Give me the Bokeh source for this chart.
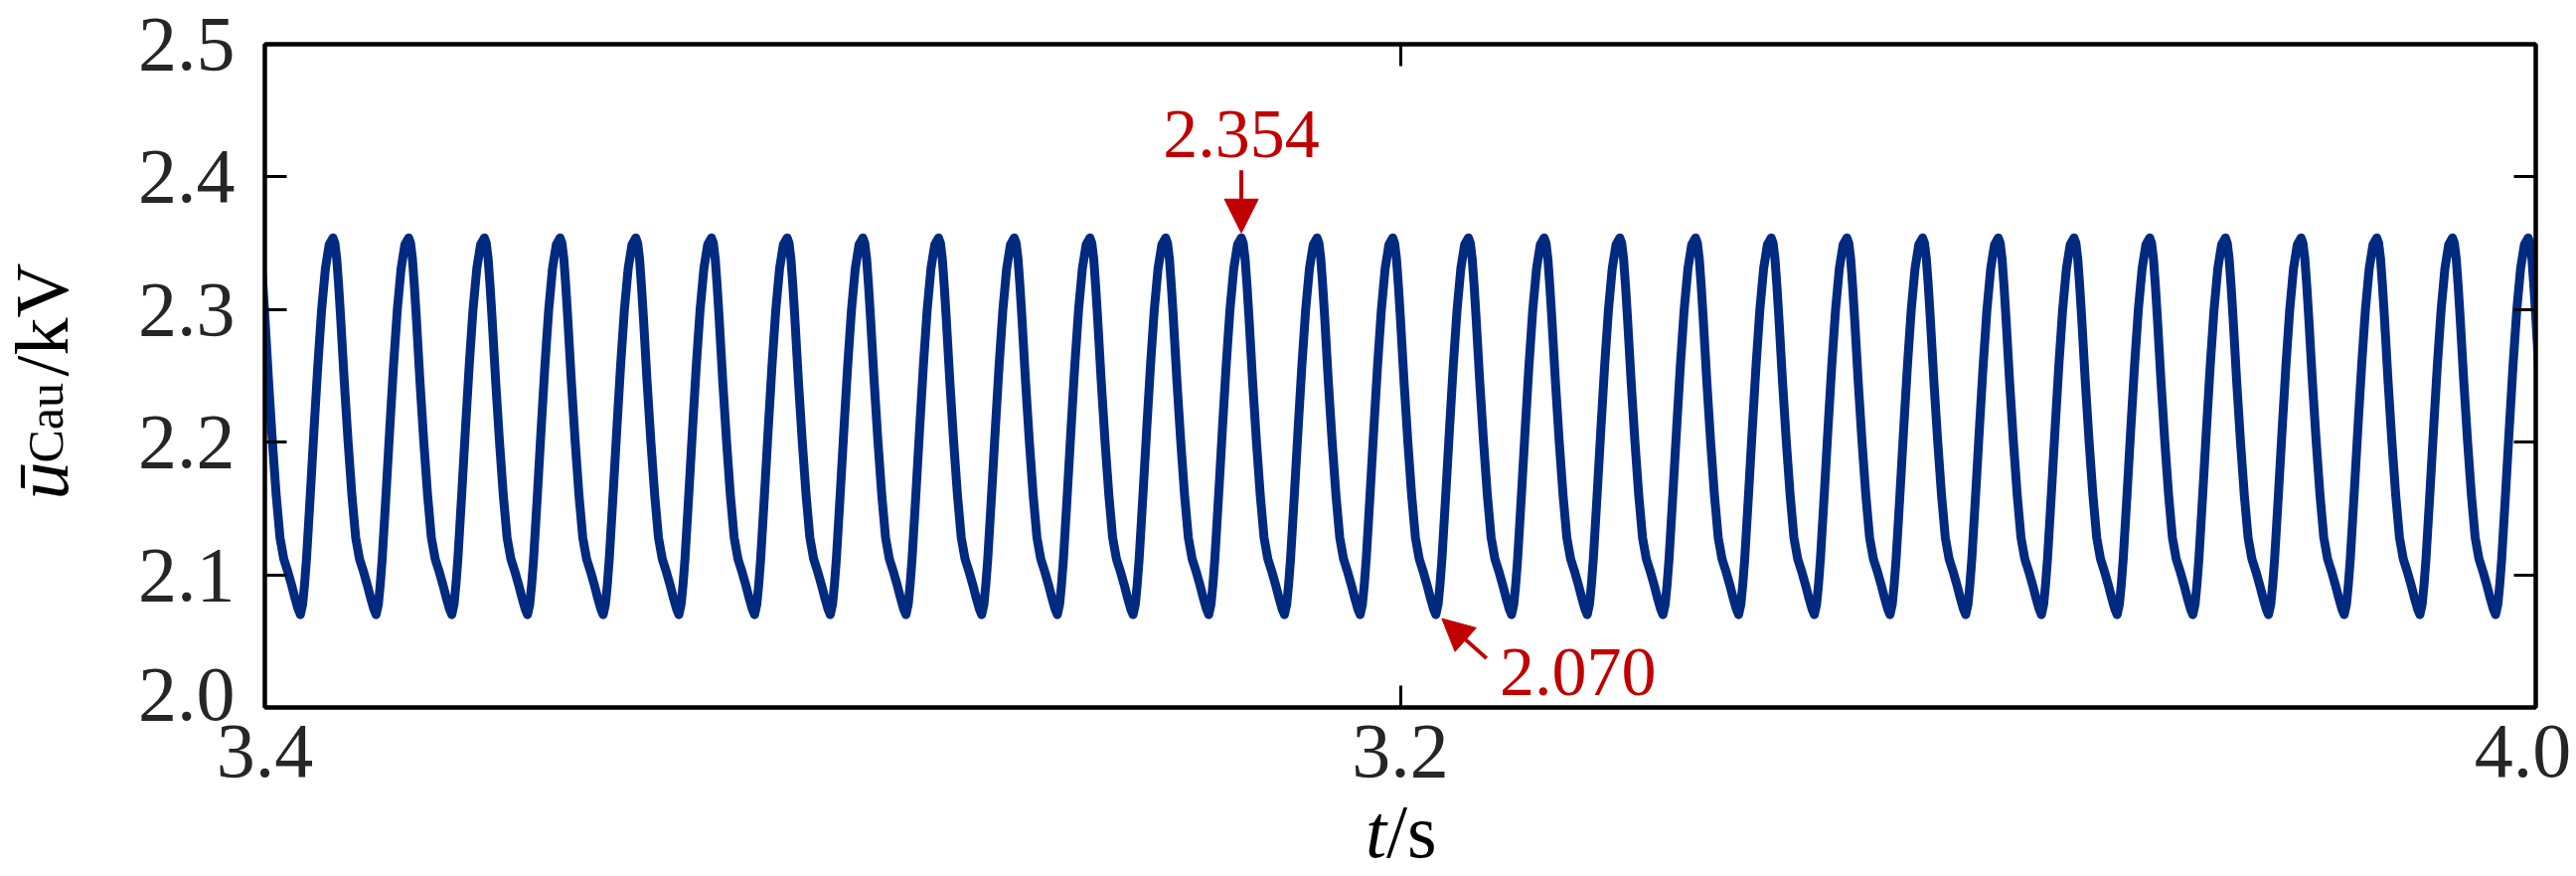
import math
from bokeh.plotting import figure
from bokeh.layouts import row, column
from bokeh.models import LinearAxis, FixedTicker, Label, Arrow, NormalHead
from bokeh.embed import file_html
from bokeh.resources import INLINE

# ---------------- data ----------------
x_tick_values = [3.4, 3.7, 4.0]
x_tick_labels = ["3.4", "3.2", "4.0"]
y_tick_values = [2.0, 2.1, 2.2, 2.3, 2.4, 2.5]
y_tick_labels = ["2.0", "2.1", "2.2", "2.3", "2.4", "2.5"]

# one 20 ms cycle of the capacitor voltage, starting at a peak
cycle_phase_ms = [0.0, 0.5, 1.0, 1.5, 2.0, 3.0, 4.0, 5.0, 6.0, 7.0, 8.0, 9.0,
                  10.0, 10.8, 11.4, 12.0, 12.5, 13.0, 14.0, 15.0, 16.0, 17.0,
                  18.0, 19.0, 20.0]
cycle_kv = [2.354, 2.350, 2.338, 2.318, 2.295, 2.245, 2.200, 2.160, 2.128,
            2.112, 2.103, 2.093, 2.082, 2.074, 2.070, 2.078, 2.093, 2.112,
            2.160, 2.210, 2.258, 2.300, 2.331, 2.349, 2.354]
first_peak_s = 3.398
period_s = 0.02
n_cycles = 31

peak_label = "2.354"
trough_label = "2.070"
peak_cycle = 13      # annotated peak
trough_cycle = 15    # annotated trough

# build the time series from the cycle read above
t_s, u_kv = [], []
for k in range(n_cycles):
    for ph, v in zip(cycle_phase_ms[:-1], cycle_kv[:-1]):
        t_s.append(first_peak_s + k * period_s + ph / 1000.0)
        u_kv.append(v)
t_s.append(first_peak_s + n_cycles * period_s)
u_kv.append(cycle_kv[-1])

# ---------------- layout ----------------
TOTAL_W, TOTAL_H = 2592, 881
YT_W = 110                      # strip holding the y title
FL, FT, FW, FH = 156, 44, 2285, 667
FB = 17
MAIN_W, MAIN_H = TOTAL_W - YT_W, FT + FH + FB
XT_H = TOTAL_H - MAIN_H         # strip holding x tick labels and x title
PAGE_FL = YT_W + FL             # frame left edge on the page
x_label_nudge = [0, 0, -13]     # keep the last x label inside the picture
y_label_nudge = [13, 0, 0, 0, 0, 0]   # lift the lowest y label clear of "3.4"

x0, x1 = x_tick_values[0], x_tick_values[-1]
y0, y1 = y_tick_values[0], y_tick_values[-1]
dxpp = (x1 - x0) / FW
dypp = (y1 - y0) / FH

SERIF = "Liberation Serif"
TICK_COLOR = "#262626"
RED = "#C00000"
BLUE = "#002A80"
TICK_FS = "78px"
AX_FS = "76px"

p = figure(width=MAIN_W, height=MAIN_H, x_range=(x0, x1), y_range=(y0, y1),
           output_backend="svg", toolbar_location=None,
           min_border_left=FL, min_border_top=FT,
           min_border_right=MAIN_W - FL - FW, min_border_bottom=FB)
p.xgrid.visible = False
p.ygrid.visible = False
p.outline_line_color = "black"
p.outline_line_width = 4
p.outline_line_alpha = 1.0
p.background_fill_color = "white"
p.border_fill_color = "white"

p.line(t_s, u_kv, line_color=BLUE, line_width=9, line_join="round",
       line_cap="round")


def style_axis(ax, ticks, overrides, font_size, standoff, tick_color="black",
               line_color="black"):
    ax.ticker = FixedTicker(ticks=ticks)
    ax.major_label_overrides = overrides
    ax.axis_line_color = line_color
    ax.axis_line_width = 4
    ax.major_tick_line_color = tick_color
    ax.major_tick_line_width = 3
    ax.major_tick_in = 22
    ax.major_tick_out = 0
    ax.minor_tick_line_color = None
    ax.major_label_text_font = SERIF
    ax.major_label_text_font_size = font_size
    ax.major_label_text_color = TICK_COLOR
    ax.major_label_standoff = standoff
    ax.axis_label = None


# tick marks (inner axes, no labels)
style_axis(p.xaxis[0], x_tick_values, {v: "" for v in x_tick_values}, "1px", 0)
style_axis(p.yaxis[0], y_tick_values, {v: "" for v in y_tick_values}, "1px", 0)
yr = LinearAxis()
style_axis(yr, y_tick_values, {v: "" for v in y_tick_values}, "1px", 0)
p.add_layout(yr, "right")
xt = LinearAxis()
style_axis(xt, x_tick_values, {v: "" for v in x_tick_values}, "1px", 0)
p.add_layout(xt, "above")

# y tick labels (outer left axis without marks)
y_label_pos = [v + n * dypp for v, n in zip(y_tick_values, y_label_nudge)]
yl = LinearAxis()
style_axis(yl, y_label_pos,
           {v: lab for v, lab in zip(y_label_pos, y_tick_labels)},
           TICK_FS, 30, tick_color=None, line_color=None)
p.add_layout(yl, "left")

# annotations
pk_t = first_peak_s + peak_cycle * period_s
pk_v = cycle_kv[0]
i_tr = cycle_kv.index(min(cycle_kv))
tr_t = first_peak_s + trough_cycle * period_s + cycle_phase_ms[i_tr] / 1000.0
tr_v = cycle_kv[i_tr]

p.add_layout(Label(x=pk_t, y=pk_v, text=peak_label, text_align="center",
                   text_baseline="alphabetic", y_offset=79 + 25,
                   text_font=SERIF, text_font_size="70px",
                   text_color=RED))
p.add_layout(Arrow(x_start=pk_t, y_start=pk_v + 68 * dypp,
                   x_end=pk_t, y_end=pk_v + 5 * dypp,
                   line_color=RED, line_width=4,
                   end=NormalHead(size=34, fill_color=RED, line_color=RED,
                                  line_width=1)))

p.add_layout(Label(x=tr_t, y=tr_v, text=trough_label, text_align="center",
                   text_baseline="alphabetic", x_offset=143, y_offset=-80 + 22,
                   text_font=SERIF, text_font_size="70px",
                   text_color=RED))
p.add_layout(Arrow(x_start=tr_t + 51 * dxpp, y_start=tr_v - 44 * dypp,
                   x_end=tr_t + 6 * dxpp, y_end=tr_v - 4 * dypp,
                   line_color=RED, line_width=4,
                   end=NormalHead(size=32, fill_color=RED, line_color=RED,
                                  line_width=1)))


def text_strip(w, h):
    f = figure(width=w, height=h, x_range=(0, w), y_range=(0, h),
               output_backend="svg", toolbar_location=None,
               x_axis_type=None, y_axis_type=None,
               min_border=0, min_border_left=0, min_border_right=0,
               min_border_top=0, min_border_bottom=0)
    f.xgrid.visible = False
    f.ygrid.visible = False
    f.outline_line_color = None
    f.background_fill_color = "white"
    f.border_fill_color = "white"
    return f


# y title: ū_Cau / kV (rotated)
yt = text_strip(YT_W, MAIN_H)
ang = math.pi / 2
ybase = 41
yt.add_layout(Label(x=ybase, y=MAIN_H - 502, text="\u016b", text_align="left",
                    text_baseline="alphabetic", angle=ang,
                    text_font=SERIF, text_font_style="italic",
                    text_font_size=AX_FS, text_color="black"))
yt.add_layout(Label(x=ybase + 4, y=MAIN_H - 465, text="Cau", text_align="left",
                    text_baseline="alphabetic", angle=ang,
                    text_font=SERIF, text_font_size="50px",
                    text_color="black"))
yt.add_layout(Label(x=ybase, y=MAIN_H - 378, text="/kV", text_align="left",
                    text_baseline="alphabetic", angle=ang,
                    text_font=SERIF, text_font_size=AX_FS,
                    text_color="black"))

# full-width strip below the frame: x tick labels and x title
xs = text_strip(TOTAL_W, XT_H)
tick_base = XT_H - (785 - MAIN_H) + 30
for v, lab, nudge in zip(x_tick_values, x_tick_labels, x_label_nudge):
    sx = PAGE_FL + (v - x0) / (x1 - x0) * FW
    xs.add_layout(Label(x=sx, y=tick_base, x_offset=nudge, text=lab,
                        text_align="center", text_baseline="alphabetic",
                        text_font=SERIF, text_font_size=TICK_FS,
                        text_color=TICK_COLOR))

x_mid = PAGE_FL + FW / 2 - 14
title_base = XT_H - (861 - MAIN_H) + 26
xs.add_layout(Label(x=x_mid, y=title_base, text="t", text_align="right",
                    text_baseline="alphabetic",
                    text_font=SERIF, text_font_style="italic",
                    text_font_size=AX_FS, text_color="black"))
xs.add_layout(Label(x=x_mid, y=title_base, text="/s", text_align="left",
                    text_baseline="alphabetic",
                    text_font=SERIF, text_font_size=AX_FS,
                    text_color="black"))

layout = column(row(yt, column(p), spacing=0), xs, spacing=0)
open("out.html", "w").write(file_html(layout, INLINE))
